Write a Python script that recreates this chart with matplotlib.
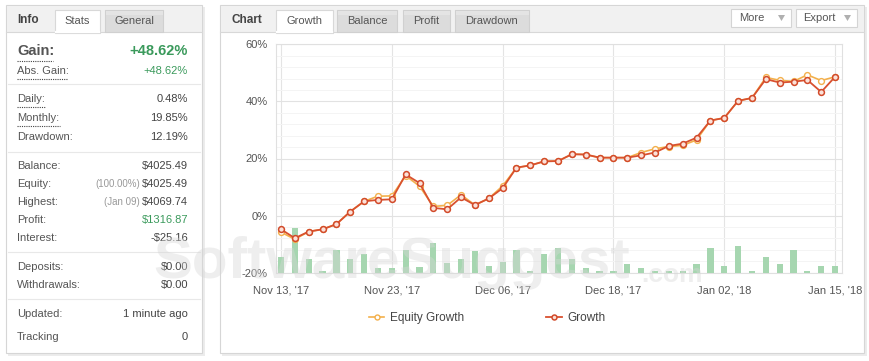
import matplotlib
matplotlib.use("Agg")
import matplotlib.pyplot as plt
from matplotlib.patches import Rectangle, Polygon
import numpy as np

# ---------------- data ----------------
growth = [-4.8, -7.9, -5.6, -4.8, -3.0, 1.4, 5.0, 5.5, 5.7, 14.4, 11.4, 2.7, 2.2, 6.4, 3.7,
          6.0, 9.6, 16.8, 17.6, 19.0, 19.1, 21.5, 21.4, 20.3, 20.3, 20.3, 21.1, 22.1, 24.4,
          25.2, 27.3, 33.3, 34.2, 40.2, 41.2, 47.8, 46.6, 46.9, 47.5, 43.3, 48.62]
equity_growth = [-5.8, -8.3, -5.6, -4.8, -3.0, 1.4, 5.0, 6.8, 6.9, 14.0, 10.3, 3.2, 3.6, 7.3, 3.7,
                 6.0, 10.4, 16.8, 17.6, 19.0, 19.1, 21.5, 21.4, 20.3, 20.3, 20.3, 22.1, 23.4, 24.2,
                 24.6, 26.5, 33.3, 34.2, 40.2, 41.2, 48.4, 47.4, 47.0, 49.3, 47.3, 48.62]
daily_bars = [15.4, 45.0, 13.4, 2.0, 22.7, 13.4, 18.7, 4.4, 4.4, 22.7, 6.0, 29.4, 9.4, 13.4, 22.0,
              6.7, 11.0, 22.7, 2.0, 18.5, 24.4, 13.4, 4.4, 2.0, 2.0, 8.7, 4.4, 1.7, 2.0, 2.0,
              8.7, 24.4, 6.7, 26.7, 1.7, 15.4, 8.7, 22.7, 1.7, 6.4, 6.7]
x_tick_pos = [0, 8, 16, 24, 32, 40]
x_tick_labels = ["Nov 13, '17", "Nov 23, '17", "Dec 06, '17", "Dec 18, '17", "Jan 02, '18", "Jan 15, '18"]
y_ticks = [-20, 0, 20, 40, 60]
y_tick_labels = ["-20%", "0%", "20%", "40%", "60%"]

stat_labels = ["Gain:", "Abs. Gain:", "Daily:", "Monthly:", "Drawdown:", "Balance:", "Equity:",
               "Highest:", "Profit:", "Interest:", "Deposits:", "Withdrawals:", "Updated:", "Tracking"]
stat_values = ["+48.62%", "+48.62%", "0.48%", "19.85%", "12.19%", "$4025.49", "$4025.49",
               "$4069.74", "$1316.87", "-$25.16", "$0.00", "$0.00", "1 minute ago", "0"]
stat_notes = {"Equity:": "(100.00%)", "Highest:": "(Jan 09)"}
left_tabs = ["Stats", "General"]
chart_tabs = ["Growth", "Balance", "Profit", "Drawdown"]
buttons = ["More", "Export"]
series_names = ["Equity Growth", "Growth"]

# ---------------- figure ----------------
plt.rcParams['font.family'] = ['Liberation Sans', 'DejaVu Sans']
W, H = 869, 361
fig = plt.figure(figsize=(W / 100, H / 100), dpi=100)
fig.patch.set_facecolor("white")

bg = fig.add_axes([0, 0, 1, 1])
bg.set_xlim(0, W)
bg.set_ylim(H, 0)
bg.axis("off")
bg.set_zorder(0)

TXT = "#555555"
VAL = "#444444"
GREEN = "#3b9a5c"


def rect(x0, y0, x1, y1, fc, ec="none", lw=0.8, z=1):
    bg.add_patch(Rectangle((x0, y0), x1 - x0, y1 - y0, facecolor=fc, edgecolor=ec, lw=lw, zorder=z))


def panel(x0, y0, x1, y1, hb=32):
    rect(x0 + 1.5, y0 + 1.5, x1 + 2.5, y1 + 2.5, "#ececec", z=0.5)
    rect(x0, y0, x1, y1, "white", "#d6d6d6", z=1)
    rect(x0 + 0.5, y0 + 0.5, x1 - 0.5, hb, "#f1f1f1", z=1.2)
    bg.plot([x0, x1], [hb, hb], color="#d8d8d8", lw=0.8, zorder=1.3)


def tab(x0, x1, label, active):
    if active:
        rect(x0, 10, x1, 32.6, "white", "#d8d8d8", z=2)
        bg.plot([x0 + 0.6, x1 - 0.6], [32.3, 32.3], color="white", lw=1.6, zorder=2.1)
    else:
        rect(x0, 10, x1, 32, "#dcdcdc", "#d0d0d0", z=2)
        rect(x0 + 0.5, 10.5, x1 - 0.5, 15, "#e4e4e4", z=2.05)
    bg.text((x0 + x1) / 2, 21.5, label, ha="center", va="center", fontsize=8, color=TXT, zorder=3)


# ---- left panel ----
panel(6, 5, 202, 353)
bg.text(17, 20, "Info", fontsize=8.5, fontweight="bold", color="#444444", va="center", zorder=3)
tab(55, 100, left_tabs[0], True)
tab(105, 163, left_tabs[1], False)

row_y = [51, 71, 99, 118, 137, 166, 184, 202, 220, 238, 267, 285, 314, 337]
underline = {"Gain:": 53, "Abs. Gain:": 68, "Daily:": 45, "Monthly:": 60}
for lab, val, y in zip(stat_labels, stat_values, row_y):
    big = lab == "Gain:"
    fs = 10.5 if big else 8
    fw = "bold" if big else "normal"
    vcol = GREEN if (lab in ("Gain:", "Abs. Gain:", "Profit:")) else VAL
    bg.text(17, y, lab, fontsize=fs, fontweight=fw, color=TXT, va="center", zorder=3)
    bg.text(188, y, val, fontsize=fs, fontweight=fw, color=vcol, va="center", ha="right", zorder=3)
    if lab in stat_notes:
        bg.text(140, y, stat_notes[lab], fontsize=7, color="#999999", va="center", ha="right", zorder=3)
    if lab in underline:
        uy = y + (10 if big else 8)
        bg.plot([17, underline[lab]], [uy, uy], color="#444444", lw=0.8, ls=(0, (1, 1)), zorder=3)
for sy in [84, 152, 252, 299]:
    bg.plot([8, 200], [sy, sy], color="#e8e8e8", lw=0.8, zorder=3)

# ---- right panel ----
panel(220, 5, 864, 353)
bg.text(231, 20, "Chart", fontsize=8.5, fontweight="bold", color="#444444", va="center", zorder=3)
tab_x = [(276, 333), (337, 397), (403, 450), (455, 529)]
for (a, b), name in zip(tab_x, chart_tabs):
    tab(a, b, name, name == "Growth")
btn_x = [(731, 791), (796, 857)]
for (a, b), name in zip(btn_x, buttons):
    rect(a, 9, b, 27, "white", "#d4d4d4", z=2)
    bg.text(a + 8 if name == "More" else a + 7, 18, name, fontsize=8, color=TXT, va="center", zorder=3)
    bg.add_patch(Polygon([[b - 13, 15], [b - 6, 15], [b - 9.5, 21]], closed=True,
                         facecolor="#b0b0b0", edgecolor="none", zorder=3))

# ---------------- chart ----------------
x0p, x1p, y0p, y1p = 276, 842, 44.3, 272.7
pos = [x0p / W, 1 - y1p / H, (x1p - x0p) / W, (y1p - y0p) / H]
x = np.arange(len(growth))

ax = fig.add_axes(pos)
ax.set_zorder(1)
ax.set_facecolor("white")
ax.set_xlim(-0.36, 40.5)
ax.set_ylim(-20, 60)
ax.set_yticks(y_ticks)
ax.set_yticklabels(y_tick_labels)
ax.set_yticks(np.arange(-20, 61, 4), minor=True)
ax.set_xticks(x_tick_pos)
ax.set_xticklabels(x_tick_labels)
ax.tick_params(axis="both", which="both", length=0, labelsize=8, colors="#555555")
ax.tick_params(axis="y", pad=6)
ax.tick_params(axis="x", pad=9)
ax.grid(axis="y", which="minor", color="#f4f4f4", lw=0.7)
ax.grid(axis="y", which="major", color="#e2e2e2", lw=0.8)
ax.grid(axis="x", which="major", color="#e4e4e4", lw=0.8)
for s in ax.spines.values():
    s.set_color("#e0e0e0")
    s.set_linewidth(0.8)

axb = ax.twinx()
axb.set_zorder(2)
axb.patch.set_visible(False)
axb.set_ylim(0, y1p - y0p)
axb.bar(x, daily_bars, width=0.45, color="#a6d6b0", edgecolor="none")
axb.axis("off")

axl = ax.twinx()
axl.set_zorder(3)
axl.patch.set_visible(False)
axl.set_ylim(-20, 60)
axl.set_xlim(-0.36, 40.5)
axl.plot(x, equity_growth, color="#f3b04c", lw=1.2, marker="o", ms=4.2, mfc="white",
         mec="#f3b04c", mew=1.0, label=series_names[0])
axl.plot(x, growth, color="#d9512f", lw=1.3, marker="o", ms=4.2, mfc="#fbe1d8",
         mec="#d24a2a", mew=1.1, label=series_names[1])
axl.axis("off")
leg = axl.legend(loc="center", bbox_to_anchor=(487 / W, 1 - 318 / H), bbox_transform=fig.transFigure,
                 ncol=2, frameon=False, fontsize=8.5, handlelength=1.3, handletextpad=0.45,
                 columnspacing=7.0, markerscale=0.85)
for t in leg.get_texts():
    t.set_color("#444444")

# ---------------- watermark ----------------
fig.text(153 / W, 1 - 278 / H, "SoftwareSuggest", fontsize=42, fontweight="bold",
         color="#d6d6d6", alpha=0.4, zorder=20, ha="left", va="baseline")
fig.text(641 / W, 1 - 282 / H, ".com", fontsize=19, fontweight="bold",
         color="#d6d6d6", alpha=0.4, zorder=20, ha="left", va="baseline")

fig.savefig("out.png", dpi=100)
